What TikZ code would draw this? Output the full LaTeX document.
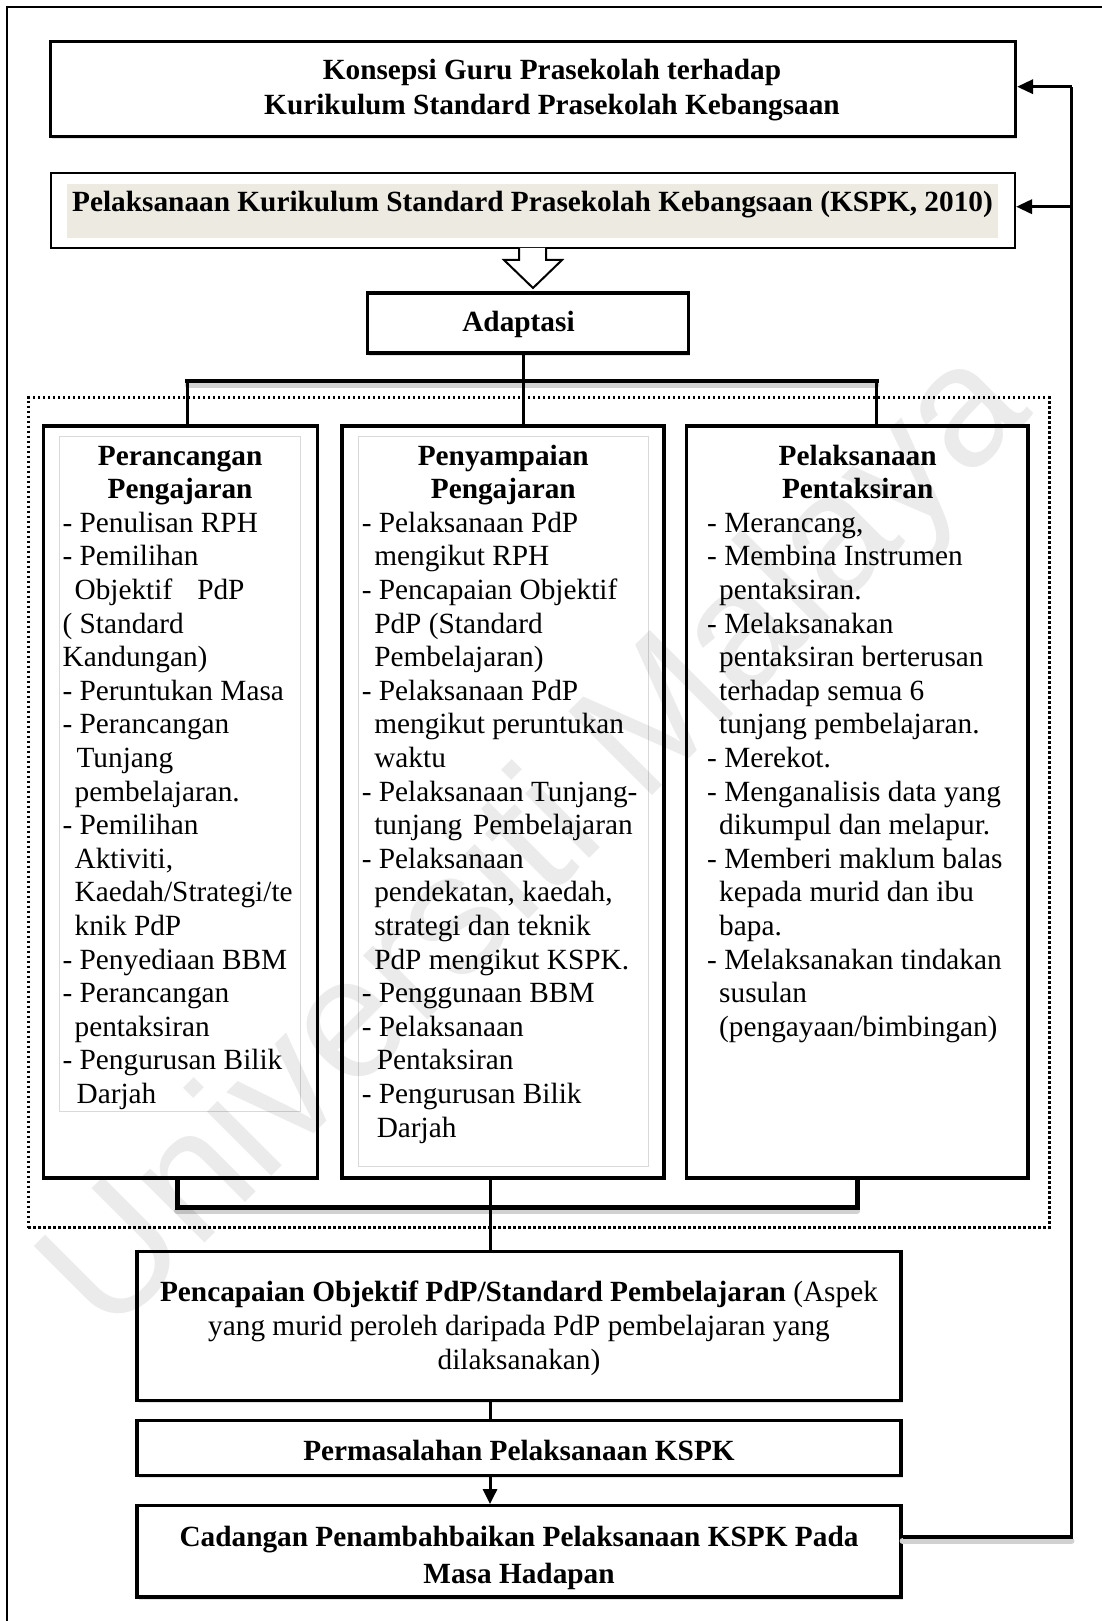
\documentclass[tikz,border=0pt]{standalone}
\usepackage{fontspec}
\setmainfont{Liberation Serif}
\newfontfamily\markfont{Liberation Sans}
\usetikzlibrary{arrows.meta,shadows}
\definecolor{paper}{RGB}{236,234,225}
\begin{document}
\begin{tikzpicture}[x=1pt,y=-1pt,
  txt/.style={font=\fontsize{29.3}{33.6}\selectfont, inner sep=0pt},
  ttl/.style={inner sep=0pt, font=\fontsize{29.3}{35}\selectfont\bfseries, align=center, anchor=base},
  coltxt/.style={txt, align=left, anchor=base west},
  boxA/.style={draw, line width=3.2pt, fill=white, inner sep=0pt},
  boxB/.style={draw, line width=2pt, fill=white, inner sep=0pt},
  colbox/.style={draw, line width=3.4pt, fill=white, inner sep=0pt},
  shadowed/.style={drop shadow={shadow xshift=1.5pt, shadow yshift=-2.5pt, opacity=0.22}},
  innerbox/.style={draw=gray!30, line width=1pt},
  link/.style={line width=3pt},
  bar/.style={line width=4.5pt, line cap=rect},
  barshade/.style={line width=6pt, draw=black!18, line cap=round},
  back/.style={line width=3.4pt},
  tip/.style={-{Triangle[length=16pt,width=14pt]}},
  group/.style={draw, line width=3pt, dash pattern=on 2.5pt off 2.5pt, inner sep=0pt}
]
\useasboundingbox (0,0) rectangle (1102,1621);
\clip (0,0) rectangle (1102,1621);

% outer frame
\draw[line width=2.8pt] (7,1700) -- (7,7) -- (1200,7);

% heading boxes (multi-line texts are placed by the baseline of their last line)
\node[boxA, shadowed, minimum width=965pt, minimum height=95pt] (konsepsi) at (533,89.3) {};
\node[ttl] (konsepsiT) at (552,115) {Konsepsi Guru Prasekolah terhadap\\Kurikulum Standard Prasekolah Kebangsaan};

\node[boxB, minimum width=964.4pt, minimum height=75.3pt] (pelaksanaan) at (532.8,210.4) {};
\fill[paper] (66.8,184) rectangle (998,238);
\node[ttl] (pelaksanaanT) at (532.5,211.7) {Pelaksanaan Kurikulum Standard Prasekolah Kebangsaan (KSPK, 2010)};

% hollow block arrow
\draw[line width=2pt, fill=white, line join=miter]
  (519,248) -- (519,260) -- (504,260) -- (533,288) -- (562,260) -- (546,260) -- (546,248);

\node[boxA, shadowed, minimum width=321pt, minimum height=60pt] (adaptasi) at (528.2,323) {};
\node[ttl] (adaptasiT) at (518.5,331.7) {Adaptasi};

% dotted group around the three columns
\node[group, minimum width=1021pt, minimum height=830pt] (grp) at (538.5,812.7) {};

% three columns
\node[colbox, minimum width=274.1pt, minimum height=752pt] (colL) at (180.65,802) {};
\node[colbox, minimum width=322pt, minimum height=752pt] (colM) at (503,802) {};
\node[colbox, minimum width=341.4pt, minimum height=752pt] (colR) at (857.3,802) {};
\draw[innerbox] (59.7,436) rectangle (300.8,1111.7);
\draw[innerbox] (358,436) rectangle (648,1166.7);

% branching from Adaptasi
\coordinate (hub) at (523.6,381);
\coordinate (barL) at (187.6,381);
\coordinate (barR) at (876.4,381);
\draw[barshade] ([yshift=-4pt]barL) -- ([yshift=-4pt]barR);
\draw[link] (adaptasi.south -| hub) -- (hub);
\draw[bar] (barL) -- (barR);
\draw[link] (barL) -- (barL |- colL.north);
\draw[link] (hub) -- (hub |- colM.north);
\draw[link] (barR) -- (barR |- colR.north);

% column texts
\node[coltxt] (colLT) at (62.4,1103.4) {%
\makebox[235pt]{\bfseries Perancangan}\\
\makebox[235pt]{\bfseries Pengajaran}\\
- Penulisan RPH\\
- Pemilihan\\
\hspace*{12pt}Objektif\hspace*{25pt}PdP\\
( Standard\\
Kandungan)\\
- Peruntukan Masa\\
- Perancangan\\
\hspace*{14pt}Tunjang\\
\hspace*{12pt}pembelajaran.\\
- Pemilihan\\
\hspace*{12pt}Aktiviti,\\
\hspace*{12pt}Kaedah/Strategi/te\\
\hspace*{12pt}knik PdP\\
- Penyediaan BBM\\
- Perancangan\\
\hspace*{12pt}pentaksiran\\
- Pengurusan Bilik\\
\hspace*{14pt}Darjah};

\node[coltxt] (colMT) at (361.6,1137) {%
\makebox[283pt]{\bfseries Penyampaian}\\
\makebox[283pt]{\bfseries Pengajaran}\\
- Pelaksanaan PdP\\
\hspace*{12.5pt}mengikut RPH\\
- Pencapaian Objektif\\
\hspace*{12.5pt}PdP (Standard\\
\hspace*{12.5pt}Pembelajaran)\\
- Pelaksanaan PdP\\
\hspace*{12.5pt}mengikut peruntukan\\
\hspace*{12.5pt}waktu\\
- Pelaksanaan Tunjang-\\
\hspace*{12.5pt}tunjang\hspace*{11pt}Pembelajaran\\
- Pelaksanaan\\
\hspace*{12.5pt}pendekatan, kaedah,\\
\hspace*{12.5pt}strategi dan teknik\\
\hspace*{12.5pt}PdP mengikut KSPK.\\
- Penggunaan BBM\\
- Pelaksanaan\\
\hspace*{15pt}Pentaksiran\\
- Pengurusan Bilik\\
\hspace*{15pt}Darjah};

\node[coltxt] (colRT) at (707,1036.2) {%
\makebox[301pt]{\bfseries Pelaksanaan}\\
\makebox[301pt]{\bfseries Pentaksiran}\\
- Merancang,\\
- Membina Instrumen\\
\hspace*{12pt}pentaksiran.\\
- Melaksanakan\\
\hspace*{12pt}pentaksiran berterusan\\
\hspace*{12pt}terhadap semua 6\\
\hspace*{12pt}tunjang pembelajaran.\\
- Merekot.\\
- Menganalisis data yang\\
\hspace*{12pt}dikumpul dan melapur.\\
- Memberi maklum balas\\
\hspace*{12pt}kepada murid dan ibu\\
\hspace*{12pt}bapa.\\
- Melaksanakan tindakan\\
\hspace*{12pt}susulan\\
\hspace*{12pt}(pengayaan/bimbingan)};

% joining the columns below
\coordinate (lowL) at (177,1207);
\coordinate (lowR) at (857,1207);
\coordinate (spine) at (490,1207);
\draw[barshade] ([yshift=-4pt]lowL) -- ([yshift=-4pt]lowR);
\draw[bar, line width=5pt, line join=miter] (lowL |- colL.south) -- (lowL) -- (lowR) -- (lowR |- colR.south);

% lower boxes
\node[boxA, shadowed, minimum width=764pt, minimum height=149pt] (pencapaian) at (519,1326.2) {};
\draw[link] (spine |- colM.south) -- (spine |- pencapaian.north);
\node[ttl, font=\fontsize{29.3}{33.7}\selectfont] (pencapaianT) at (519,1369.1)
  {{\bfseries Pencapaian Objektif PdP/Standard Pembelajaran} (Aspek\\yang murid peroleh daripada PdP pembelajaran yang\\dilaksanakan)};

\node[boxA, shadowed, minimum width=764pt, minimum height=55pt] (permasalahan) at (519,1448.2) {};
\node[ttl] (permasalahanT) at (519,1460) {Permasalahan Pelaksanaan KSPK};

\node[boxA, shadowed, minimum width=764pt, minimum height=91.3pt] (cadangan) at (519,1551.35) {};
\node[ttl, font=\fontsize{29.3}{36.7}\selectfont\bfseries] (cadanganT) at (519,1583.4)
  {Cadangan Penambahbaikan Pelaksanaan KSPK Pada\\Masa Hadapan};

\draw[link] (pencapaian.south -| spine) -- (permasalahan.north -| spine);
\draw[link, -{Triangle[length=15pt,width=14pt]}] (permasalahan.south -| spine) -- (cadangan.north -| spine);

% feedback loop
\coordinate (ret) at (1071.5,1537);
\coordinate (retTop) at (1071.5,86.7);
\coordinate (ret2) at (1071.5,206.7);
\draw[barshade] ([yshift=-4pt]cadangan.east |- ret) -- ([yshift=-4pt]ret);
\draw[back, line join=miter] (cadangan.east |- ret) -- (ret) -- (retTop);
\draw[back, tip] (retTop) -- (konsepsi.east |- retTop);
\draw[back, tip] (ret2) -- (pelaksanaan.east |- ret2);

% watermark
\node[rotate=45, font=\markfont\fontsize{172}{172}\selectfont, text=black, text opacity=0.08, inner sep=0pt] (mark) at (540,845) {Universiti Malaya};
\end{tikzpicture}
\end{document}
